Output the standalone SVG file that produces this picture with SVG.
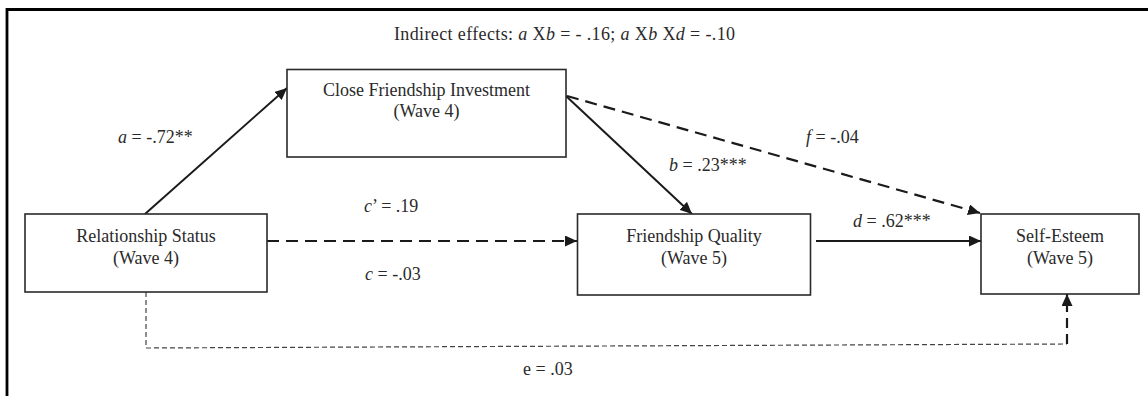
<svg xmlns="http://www.w3.org/2000/svg" width="1148" height="396" viewBox="0 0 1148 396">
<style>
text{font-family:"Liberation Serif","Times New Roman",serif;font-size:18px;fill:#2a2a2a}
.i{font-style:italic}
.box{fill:#fff;stroke:#2a2a2a;stroke-width:1.6}
.solid{fill:none;stroke:#1a1a1a;stroke-width:2}
.dash{fill:none;stroke:#1a1a1a;stroke-width:2.2;stroke-dasharray:12 7}
.thin{fill:none;stroke:#444;stroke-width:1.2;stroke-dasharray:5 3}
.frame{fill:none;stroke:#000;stroke-width:2.8}
</style>
<defs>
<marker id="ah" viewBox="0 0 12 11" refX="12" refY="5.5" markerWidth="12" markerHeight="11" markerUnits="userSpaceOnUse" orient="auto">
<path d="M0,0 L12,5.5 L0,11 z" fill="#1a1a1a"/>
</marker>
</defs>
<path class="frame" d="M7,396 V9.5 H1148"/>
<text x="394" y="40" textLength="341" lengthAdjust="spacing">Indirect effects: <tspan class="i">a</tspan> X<tspan class="i">b</tspan> = - .16; <tspan class="i">a</tspan> X<tspan class="i">b</tspan> X<tspan class="i">d</tspan> = -.10</text>
<g id="connectors">
<line class="solid" x1="145" y1="214" x2="287" y2="88" marker-end="url(#ah)"/>
<line class="solid" x1="566" y1="96" x2="692" y2="214" marker-end="url(#ah)"/>
<line class="dash" x1="567" y1="96" x2="980" y2="213" marker-end="url(#ah)"/>
<line class="dash" x1="267" y1="241" x2="577" y2="241" marker-end="url(#ah)"/>
<line class="solid" x1="816" y1="241" x2="981" y2="241" marker-end="url(#ah)"/>
<path class="thin" d="M146,292 V348 L1067,344"/>
<line class="dash" x1="1067" y1="344" x2="1067" y2="294" style="stroke-dasharray:10 6" marker-end="url(#ah)"/>
<text x="118" y="143"><tspan class="i">a</tspan> = -.72**</text>
<text x="669" y="171"><tspan class="i">b</tspan> = .23***</text>
<text x="806" y="143"><tspan class="i">f</tspan> = -.04</text>
<text x="364" y="212"><tspan class="i">c</tspan>’ = .19</text>
<text x="365" y="280"><tspan class="i">c</tspan> = -.03</text>
<text x="853" y="227"><tspan class="i">d</tspan> = .62***</text>
<text x="523" y="375">e = .03</text>
</g>
<g id="close-friendship">
<rect class="box" x="287" y="69.5" width="279" height="87.5"/>
<text x="426.5" y="96" text-anchor="middle">Close Friendship Investment</text>
<text x="426.5" y="117" text-anchor="middle">(Wave 4)</text>
</g>
<g id="relationship-status">
<rect class="box" x="25" y="214" width="242" height="78"/>
<text x="146" y="242" text-anchor="middle">Relationship Status</text>
<text x="146" y="264" text-anchor="middle">(Wave 4)</text>
</g>
<g id="friendship-quality">
<rect class="box" x="577.5" y="214" width="233" height="81"/>
<text x="694" y="242" text-anchor="middle">Friendship Quality</text>
<text x="694" y="264" text-anchor="middle">(Wave 5)</text>
</g>
<g id="self-esteem">
<rect class="box" x="981" y="214" width="158" height="80"/>
<text x="1060" y="242" text-anchor="middle">Self-Esteem</text>
<text x="1060" y="264" text-anchor="middle">(Wave 5)</text>
</g>
</svg>
